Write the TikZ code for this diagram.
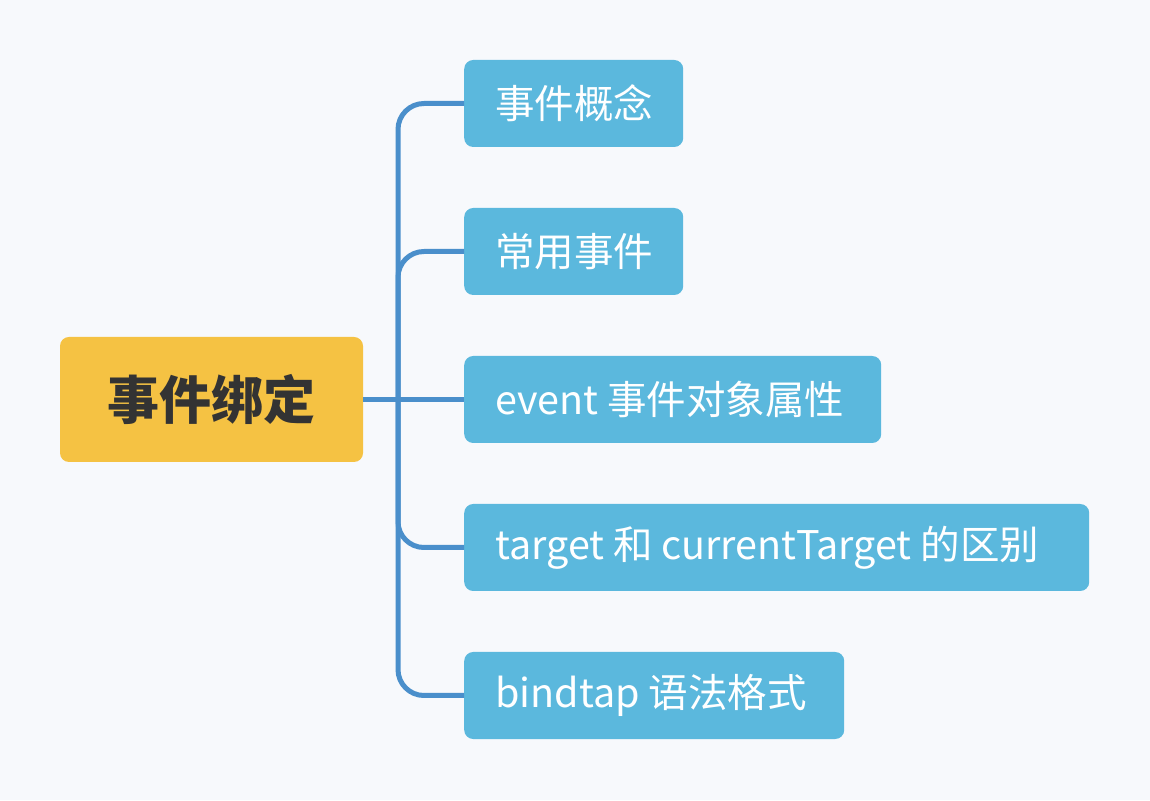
\documentclass[tikz,border=0pt]{standalone}
\usepackage{fontspec}
\setmainfont{Noto Sans CJK SC}
\usepackage{tikz}
\definecolor{bgc}{HTML}{F7F9FC}
\definecolor{topic}{HTML}{F5C243}
\definecolor{sub}{HTML}{5BB8DD}
\definecolor{branch}{HTML}{4A8FCB}

\begin{document}
\begin{tikzpicture}[x=1pt,y=1pt]
\tikzstyle{every node}=[rounded corners=9pt,inner ysep=0pt,minimum height=87pt];
\tikzstyle{subnode}=[fill=sub,text=white,anchor=west,inner xsep=31pt,align=flush left,font=\fontsize{39.5}{40}\selectfont];
\tikzstyle{link}=[draw=branch,line width=5pt,rounded corners=26pt];
\fill[bgc] (0,0) rectangle (1150,800);

\node[fill=topic,text=black!80,minimum width=303pt,minimum height=125pt,font=\fontsize{52}{52}\selectfont\bfseries](R) at(211.5,400.5){事件绑定};

\node[subnode,text width=157pt](A) at(464,696.5){事件概念};
\node[subnode,text width=157pt](B) at(464,548.5){常用事件};
\node[subnode,text width=355pt](C) at(464,400.5){event 事件对象属性};
\node[subnode,text width=563pt](D) at(464,252.5){target 和 currentTarget 的区别};
\node[subnode,text width=318pt](E) at(464,104.5){bindtap 语法格式};

\coordinate (T) at(398,400.5);
\draw[link] (R.east)-- (C.west);
\draw[link] (T)|- (A.west);
\draw[link] (T)|- (B.west);
\draw[link] (T)|- (D.west);
\draw[link] (T)|- (E.west);

\end{tikzpicture}
\end{document}
